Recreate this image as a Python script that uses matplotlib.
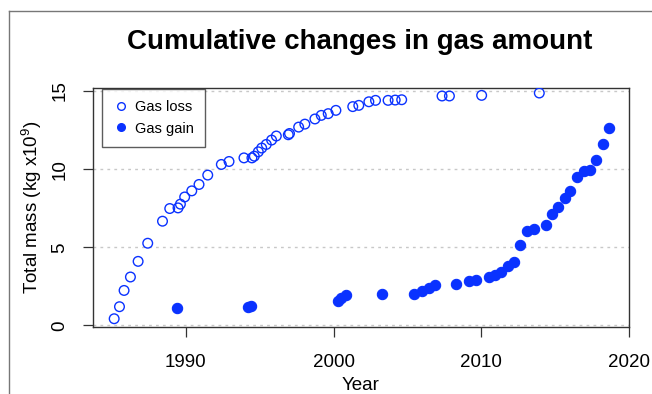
import matplotlib
matplotlib.use("Agg")
import matplotlib.pyplot as plt
from matplotlib.lines import Line2D

plt.rcParams['font.family'] = ['Liberation Sans', 'DejaVu Sans']
plt.rcParams['mathtext.fontset'] = 'custom'
plt.rcParams['mathtext.rm'] = 'Liberation Sans'
plt.rcParams['mathtext.default'] = 'regular'

# Cumulative gas loss (open circles)
loss_year = [1985.16, 1985.52, 1985.83, 1986.26, 1986.78, 1987.43, 1988.43, 1988.92,
             1989.48, 1989.64, 1989.93, 1990.41, 1990.90, 1991.49, 1992.41, 1992.93,
             1993.94, 1994.48, 1994.64, 1994.91, 1995.14, 1995.45, 1995.81, 1996.13,
             1996.94, 1997.02, 1997.64, 1998.06, 1998.74, 1999.17, 1999.64, 2000.16,
             2001.30, 2001.71, 2002.39, 2002.84, 2003.69, 2004.17, 2004.61, 2007.34,
             2007.84, 2010.02, 2013.92]
loss_mass = [0.43, 1.20, 2.24, 3.10, 4.10, 5.26, 6.67, 7.48,
             7.52, 7.76, 8.22, 8.61, 9.02, 9.62, 10.30, 10.49,
             10.72, 10.72, 10.83, 11.11, 11.35, 11.58, 11.86, 12.12,
             12.20, 12.28, 12.69, 12.88, 13.21, 13.44, 13.55, 13.76,
             14.00, 14.08, 14.31, 14.40, 14.40, 14.42, 14.44, 14.68,
             14.68, 14.72, 14.87]

# Cumulative gas gain (filled circles)
gain_year = [1989.41, 1994.20, 1994.40, 2000.32, 2000.52, 2000.81, 2003.26, 2005.43,
             2005.97, 2006.44, 2006.89, 2008.31, 2009.19, 2009.64, 2010.49, 2010.95,
             2011.35, 2011.78, 2012.23, 2012.61, 2013.06, 2013.53, 2014.37, 2014.77,
             2015.18, 2015.63, 2016.03, 2016.47, 2016.91, 2017.36, 2017.77, 2018.20,
             2018.63]
gain_mass = [1.09, 1.20, 1.25, 1.58, 1.78, 1.97, 1.99, 2.03,
             2.20, 2.37, 2.58, 2.68, 2.82, 2.93, 3.10, 3.21,
             3.44, 3.80, 4.06, 5.17, 6.05, 6.17, 6.41, 7.14,
             7.56, 8.16, 8.59, 9.51, 9.89, 9.94, 10.56, 11.60,
             12.65]

y_ticks = [0, 5, 10, 15]
x_ticks = [1990, 2000, 2010, 2020]

blue = '#0a32ff'

fig = plt.figure(figsize=(6.52, 3.94), dpi=100)
ax = fig.add_axes([0.142, 0.170, 0.823, 0.607])

for y in y_ticks:
    ax.axhline(y, color='#c8c8c8', linestyle=(0, (2, 3)), linewidth=1.0, zorder=0)

ax.scatter(loss_year, loss_mass, s=48, facecolors='none', edgecolors=blue,
           linewidths=1.0, zorder=3)
ax.scatter(gain_year, gain_mass, s=55, color=blue, edgecolors=blue,
           linewidths=0.8, zorder=3)

ax.set_xlim(1983.7, 2020.0)
ax.set_ylim(-0.1, 15.2)
ax.set_xticks(x_ticks)
ax.set_yticks(y_ticks)
ax.tick_params(axis='both', length=7.5, width=0.9, labelsize=13.5, color='#333333')
ax.tick_params(axis='x', pad=12)
ax.tick_params(axis='y', pad=10)
for lab in ax.get_yticklabels():
    lab.set_rotation(90)
    lab.set_va('center')
for sp in ax.spines.values():
    sp.set_linewidth(1.0)
    sp.set_color('#333333')

ax.set_xlabel('Year', fontsize=13.5, labelpad=4)
ax.set_ylabel('Total mass (kg x10$^9$)', fontsize=13.5, labelpad=5)

fig.text(0.552, 0.893, 'Cumulative changes in gas amount', ha='center', va='center',
         fontsize=20, fontweight='bold')

handles = [
    Line2D([], [], marker='o', linestyle='none', markersize=5.5,
           markerfacecolor='none', markeredgecolor=blue, markeredgewidth=1.0),
    Line2D([], [], marker='o', linestyle='none', markersize=5.5,
           markerfacecolor=blue, markeredgecolor=blue),
]
leg = ax.legend(handles, ['Gas loss', 'Gas gain'], loc='upper left',
                bbox_to_anchor=(0.017, 0.997), fontsize=10.5, frameon=True,
                fancybox=False, edgecolor='#333333', handletextpad=0.45,
                borderpad=0.8, labelspacing=0.5, handlelength=1.0,
                borderaxespad=0)
leg.get_frame().set_linewidth(1.0)

# thin grey border along the top and left of the canvas
fig.add_artist(Line2D([9 / 652, 1], [1 - 11 / 394, 1 - 11 / 394],
                      transform=fig.transFigure, color='#777777', linewidth=1.0))
fig.add_artist(Line2D([9 / 652, 9 / 652], [0, 1 - 11 / 394],
                      transform=fig.transFigure, color='#777777', linewidth=1.0))

fig.savefig('out.png', dpi=100)
